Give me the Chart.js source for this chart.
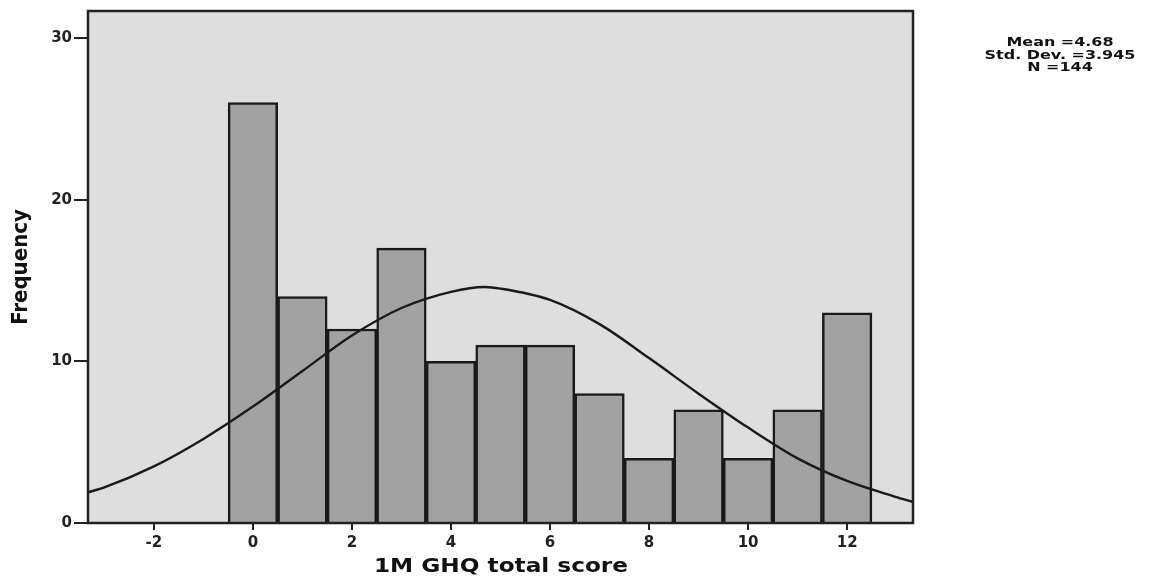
<!DOCTYPE html>
<html>
<head>
<meta charset="utf-8">
<script src="https://cdn.jsdelivr.net/npm/chart.js@4/dist/chart.umd.min.js"></script>
<style>
  html, body { margin: 0; padding: 0; background: #fff; }
  #wrap { width: 1156px; height: 579px; }
</style>
</head>
<body>
<div id="wrap"><canvas id="hist"></canvas></div>
<script>
// ── Data ──────────────────────────────────────────────
const scores      = [0, 1, 2, 3, 4, 5, 6, 7, 8, 9, 10, 11, 12];
const frequencies = [26, 14, 12, 17, 10, 11, 11, 8, 4, 7, 4, 7, 13];

// normal curve
const curveX = [-3.33, -3, -2, -1, 0, 1, 2, 3, 4, 4.68, 5, 6, 7, 8, 9, 10, 11, 12, 13, 13.33];
const curveY = [1.9, 2.2, 3.5, 5.2, 7.2, 9.4, 11.6, 13.3, 14.3, 14.6, 14.5, 13.8, 12.3, 10.2, 8.0, 5.9, 4.0, 2.6, 1.6, 1.3];

const xTicks = [-2, 0, 2, 4, 6, 8, 10, 12];
const yTicks = [0, 10, 20, 30];

const statLines = ['Mean =4.68', 'Std. Dev. =3.945', 'N =144'];
const xTitle = '1M GHQ total score';
const yTitle = 'Frequency';

// ── Helpers ───────────────────────────────────────────
const WIDE = '"DejaVu Sans", Verdana, sans-serif';

function drawWide(ctx, text, cx, cy, font, sx) {
    ctx.save();
    ctx.font = font;
    ctx.fillStyle = '#111';
    ctx.textAlign = 'center';
    ctx.textBaseline = 'middle';
    ctx.translate(cx, cy);
    ctx.scale(sx, 1);
    ctx.fillText(text, 0, 0);
    ctx.restore();
}

// plot background + frame + extra texts
const plotDecor = {
    id: 'plotDecor',
    beforeDatasetsDraw(chart) {
        const { ctx, chartArea: a } = chart;
        ctx.save();
        ctx.fillStyle = '#dedede';
        ctx.fillRect(a.left, a.top, a.right - a.left, a.bottom - a.top);
        ctx.restore();
    },
    afterDraw(chart) {
        const { ctx, chartArea: a } = chart;
        ctx.save();
        ctx.strokeStyle = '#222';
        ctx.lineWidth = 2.5;
        ctx.strokeRect(a.left, a.top, a.right - a.left, a.bottom - a.top);
        ctx.restore();

        statLines.forEach((t, i) => {
            drawWide(ctx, t, 1060, 43 + i * 12.5, 'bold 12px ' + WIDE, 1.33);
        });
        drawWide(ctx, xTitle, 501, 567, 'bold 20px ' + WIDE, 1.16);
    }
};

// ── Chart ─────────────────────────────────────────────
new Chart(document.getElementById('hist'), {
    type: 'bar',
    data: {
        datasets: [
            {
                type: 'line',
                data: curveX.map((x, i) => ({ x, y: curveY[i] })),
                borderColor: '#1a1a1a',
                borderWidth: 2.4,
                pointRadius: 0,
                cubicInterpolationMode: 'monotone',
                fill: false,
                order: 0,
            },
            {
                data: scores.map((x, i) => ({ x, y: frequencies[i] })),
                backgroundColor: '#a2a2a2',
                borderColor: '#1a1a1a',
                borderWidth: 2.5,
                barPercentage: 1,
                categoryPercentage: 1,
                order: 1,
            },
        ],
    },
    options: {
        responsive: true,
        maintainAspectRatio: false,
        animation: false,
        events: [],
        layout: { padding: { left: 0, right: 243, top: 11, bottom: 0 } },
        plugins: {
            legend: { display: false },
            tooltip: { enabled: false },
        },
        scales: {
            x: {
                type: 'linear',
                offset: false,
                min: -3.33,
                max: 13.33,
                afterBuildTicks: s => { s.ticks = xTicks.map(v => ({ value: v })); },
                afterFit: s => { s.height = 56; },
                grid: {
                    offset: false,
                    drawOnChartArea: false,
                    drawTicks: true,
                    tickLength: 7,
                    color: '#222',
                    lineWidth: 2,
                },
                border: { display: false },
                ticks: {
                    padding: 4,
                    color: '#222',
                    font: { family: WIDE, size: 15, weight: 'bold' },
                },
            },
            y: {
                min: 0,
                max: 31.67,
                afterBuildTicks: s => { s.ticks = yTicks.map(v => ({ value: v })); },
                afterFit: s => { s.width = 88; },
                grid: {
                    drawOnChartArea: false,
                    drawTicks: true,
                    tickLength: 14,
                    color: '#222',
                    lineWidth: 2,
                },
                border: { display: false },
                ticks: {
                    padding: 2,
                    color: '#222',
                    font: { family: WIDE, size: 15, weight: 'bold' },
                },
                title: {
                    display: true,
                    text: yTitle,
                    color: '#111',
                    padding: { top: 8, bottom: 0 },
                    font: { family: '"Liberation Sans Narrow", "DejaVu Sans Condensed", sans-serif', size: 22, weight: 'bold' },
                },
            },
        },
    },
    plugins: [plotDecor],
});
</script>
</body>
</html>
